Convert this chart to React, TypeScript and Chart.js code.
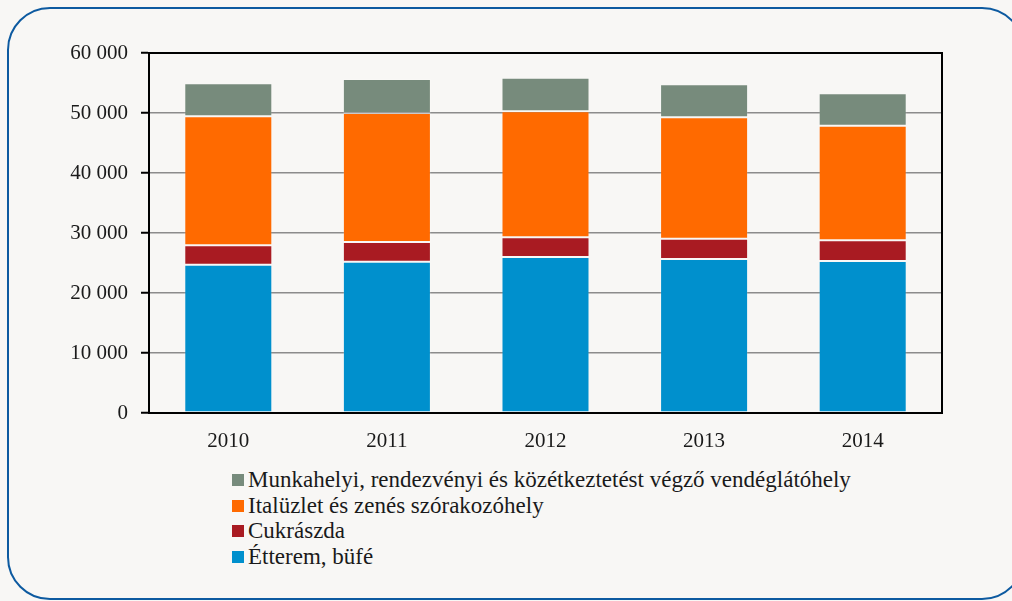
import React, { useEffect, useRef } from "react";
import { Chart, registerables } from "chart.js";

Chart.register(...registerables);

const years = ["2010", "2011", "2012", "2013", "2014"];
const etterem = [24720, 25220, 26000, 25670, 25330];
const cukraszda = [3230, 3280, 3280, 3380, 3450];
const italuzlet = [21500, 21500, 21000, 20230, 19100];
const munkahelyi = [5500, 5670, 5610, 5500, 5400];

const seriesLabels = [
  "Étterem, büfé",
  "Cukrászda",
  "Italüzlet és zenés szórakozóhely",
  "Munkahelyi, rendezvényi és közétkeztetést végző vendéglátóhely",
];
const seriesColors = ["#0090cd", "#a91b22", "#ff6a00", "#778b7c"];
const seriesData = [etterem, cukraszda, italuzlet, munkahelyi];

const yMin = 0;
const yMax = 60000;
const yStep = 10000;

const FONT = "'Liberation Serif', 'Times New Roman', serif";
const BG = "#f8f7f5";

function fmt(v: number): string {
  return String(v).replace(/\B(?=(\d{3})+(?!\d))/g, " ");
}

const framePlugin = {
  id: "frame",
  afterDatasetsDraw(chart: any) {
    const { ctx, chartArea } = chart;
    const { left, top, right, bottom } = chartArea;
    ctx.save();
    ctx.strokeStyle = "#000";
    ctx.lineWidth = 2;
    ctx.beginPath();
    ctx.moveTo(left, bottom);
    ctx.lineTo(left, top);
    ctx.lineTo(right, top);
    ctx.lineTo(right, bottom);
    ctx.lineTo(left, bottom);
    ctx.stroke();
    ctx.restore();
  },
};

export default function App() {
  const canvasRef = useRef<HTMLCanvasElement | null>(null);

  useEffect(() => {
    const canvas = canvasRef.current;
    if (!canvas) return;
    const chart = new Chart(canvas, {
      type: "bar",
      data: {
        labels: years,
        datasets: seriesData.map((d, i) => ({
          label: seriesLabels[i],
          data: d,
          backgroundColor: seriesColors[i],
          borderColor: "rgba(255,255,255,0.15)",
          borderWidth: 1,
          borderSkipped: false,
          barPercentage: 0.555,
          categoryPercentage: 1,
        })),
      },
      options: {
        responsive: false,
        animation: false,
        devicePixelRatio: 1,
        layout: { padding: { left: 0, top: 53, right: 70, bottom: 0 } },
        plugins: {
          legend: { display: false },
          tooltip: { enabled: false },
          title: { display: false },
        },
        scales: {
          x: {
            stacked: true,
            grid: { display: false, drawTicks: false },
            border: { display: true, color: "#000", width: 2 },
            ticks: {
              color: "#1a1a1a",
              font: { family: FONT, size: 21 },
              padding: 16,
            },
            afterFit: (s: any) => {
              s.height = 47;
            },
          },
          y: {
            stacked: true,
            min: yMin,
            max: yMax,
            grid: {
              color: "#8c8c8c",
              lineWidth: 1.5,
              tickLength: 8,
              tickColor: "#000",
              tickWidth: 2,
            },
            border: { display: true, color: "#000", width: 2 },
            ticks: {
              stepSize: yStep,
              color: "#1a1a1a",
              font: { family: FONT, size: 21 },
              padding: 13,
              callback: (v: any) => fmt(Number(v)),
            },
            afterFit: (s: any) => {
              s.width = 149;
            },
          },
        },
      },
      plugins: [framePlugin],
    });
    return () => chart.destroy();
  }, []);

  const legendOrder = [3, 2, 1, 0];

  return (
    <div
      style={{
        position: "fixed",
        left: 0,
        top: 0,
        width: 1012,
        height: 601,
        background: BG,
        overflow: "hidden",
        fontFamily: FONT,
      }}
    >
      <div
        style={{
          position: "absolute",
          left: 7,
          top: 7,
          width: 1018,
          height: 593,
          border: "2.5px solid #0d5aa0",
          borderRadius: 43,
          boxSizing: "border-box",
        }}
      />
      <canvas
        ref={canvasRef}
        width={1012}
        height={460}
        style={{ position: "absolute", left: 0, top: 0, width: 1012, height: 460 }}
      />
      <div style={{ position: "absolute", left: 232, top: 467 }}>
        {legendOrder.map((i) => (
          <div
            key={i}
            style={{
              display: "flex",
              alignItems: "center",
              height: 25.7,
              whiteSpace: "nowrap",
            }}
          >
            <span
              style={{
                display: "inline-block",
                width: 12,
                height: 12,
                background: seriesColors[i],
                marginRight: 4,
              }}
            />
            <span style={{ fontSize: 23, color: "#1a1a1a", lineHeight: "25.7px" }}>
              {seriesLabels[i]}
            </span>
          </div>
        ))}
      </div>
    </div>
  );
}
